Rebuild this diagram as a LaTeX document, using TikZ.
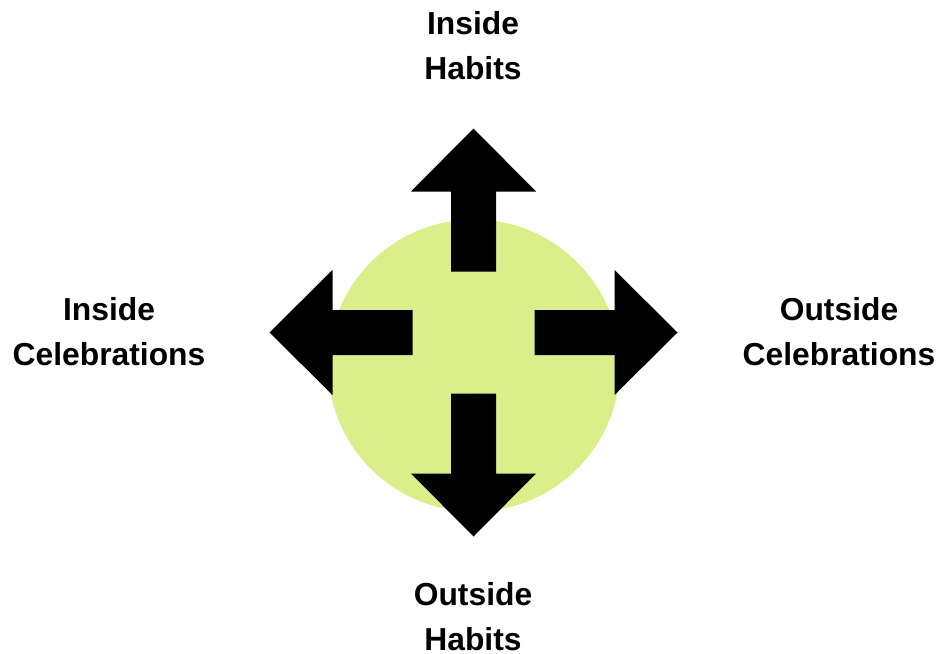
\documentclass[tikz,border=0pt]{standalone}
\usepackage{fontspec}
\setmainfont{Liberation Sans}
\usepackage{xcolor}
\definecolor{cDisc}{HTML}{DAEE8A}
\usepackage{tikz}
\usetikzlibrary{positioning,calc}
\tikzset{
  node-label/.style={align=center,inner sep=0pt,anchor=base,
    font=\fontsize{31.8}{44.7}\selectfont\bfseries},
  arrow-block/.style={fill=black},
}

\begin{document}
\begin{tikzpicture}[x=1pt,y=-1pt]
  \useasboundingbox (0,0) rectangle (939,653);
  \coordinate (mid) at (473.5,332.5);
  \fill[cDisc] (474,365.5) circle[radius=146];
  % four block arrows round the centre
  \foreach \ang in {0,90,180,270}
    \fill[arrow-block,shift={(mid)},rotate=\ang]
      (61,-22.5) -- (141,-22.5) -- (141,-62.5) -- (204,0)
      -- (141,62.5) -- (141,22.5) -- (61,22.5) -- cycle;
  % base anchor sits on the second line
  \node[node-label] (ih) at (473,79)    {Inside\\Habits};
  \node[node-label] (ic) at (109,365.5) {Inside\\Celebrations};
  \node[node-label] (oc) at (839,365.5) {Outside\\Celebrations};
  \node[node-label] (oh) at (473,650.5) {Outside\\Habits};
\end{tikzpicture}
\end{document}
